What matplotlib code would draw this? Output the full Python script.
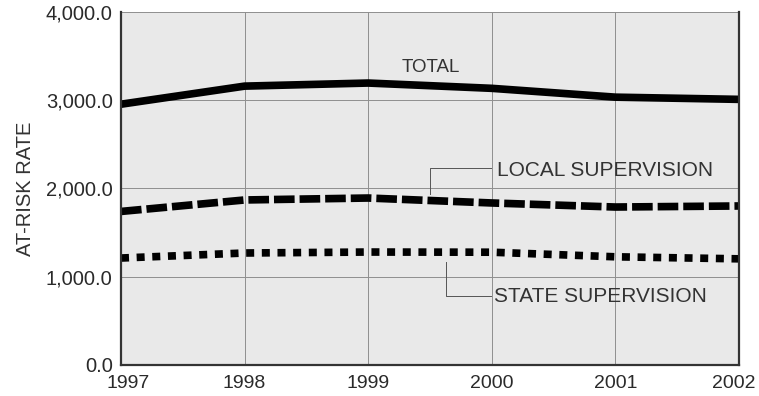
import matplotlib.pyplot as plt
from matplotlib.transforms import ScaledTranslation

years = [1997, 1998, 1999, 2000, 2001, 2002]
total = [2955, 3160, 3195, 3135, 3035, 3010]
local_sup = [1740, 1870, 1892, 1836, 1790, 1802]
state_sup = [1212, 1269, 1280, 1278, 1226, 1203]
y_ticks = [0, 1000, 2000, 3000, 4000]

plt.rcParams['font.family'] = ['Liberation Sans', 'DejaVu Sans']

fig = plt.figure(figsize=(7.59, 3.96), dpi=100)
ax = fig.add_axes([0.1594, 0.0783, 0.8142, 0.8914])
ax.set_facecolor('#e9e9e9')

ax.plot(years, total, color='black', lw=5.5, solid_capstyle='butt')
ax.plot(years, local_sup, color='black', lw=5.5, dashes=(2.7, 0.65))
ax.plot(years, state_sup, color='black', lw=5.5, dashes=(1.05, 1.0))

ax.set_xlim(years[0], years[-1])
ax.set_ylim(0, 4000)
ax.set_xticks(years)
ax.set_yticks(y_ticks)
ax.set_yticklabels([f'{v:,.1f}' for v in y_ticks])
ax.grid(True, color='#8f8f8f', lw=0.7)
ax.set_axisbelow(True)
ax.tick_params(length=0, labelsize=14.5, colors='#2a2a2a', pad=6)
ax.tick_params(axis='x', labelsize=14, pad=7)
for side in ['left', 'bottom', 'right']:
    ax.spines[side].set_color('#333333')
    ax.spines[side].set_linewidth(1.6)
ax.spines['top'].set_visible(False)
ax.set_ylabel('AT-RISK RATE', fontsize=14.5, color='#333333', labelpad=8)

# nudge the end year labels inwards like the original
xlabels = ax.get_xticklabels()
xlabels[0].set_transform(xlabels[0].get_transform() + ScaledTranslation(0.07, 0, fig.dpi_scale_trans))
xlabels[-1].set_transform(xlabels[-1].get_transform() + ScaledTranslation(-0.05, 0, fig.dpi_scale_trans))

ax.text(1999.27, 3371, 'TOTAL', fontsize=13.5, color='#333333', ha='left', va='center')
ax.plot([1999.5, 1999.5, 1999.99], [1938, 2232, 2232], color='#555555', lw=0.7)
ax.text(2000.04, 2200, 'LOCAL SUPERVISION', fontsize=15, color='#333333', ha='left', va='center')
ax.plot([1999.63, 1999.63, 1999.99], [1167, 782, 782], color='#555555', lw=0.7)
ax.text(2000.02, 772, 'STATE SUPERVISION', fontsize=15, color='#333333', ha='left', va='center')

fig.savefig('out.png', dpi=100)
